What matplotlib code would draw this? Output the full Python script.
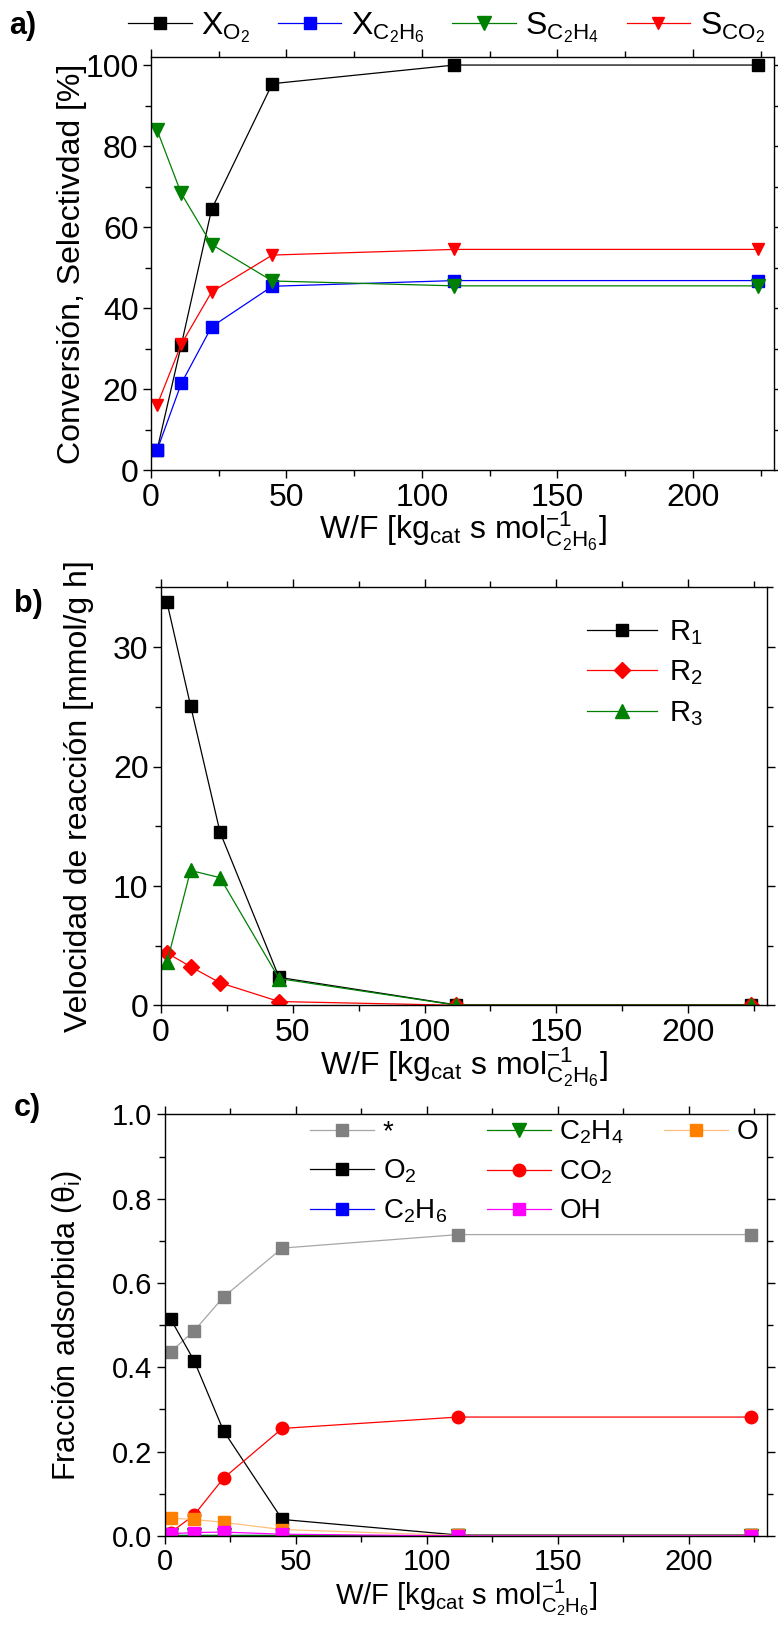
import matplotlib
matplotlib.use('Agg')
import matplotlib.pyplot as plt
from matplotlib.lines import Line2D
from matplotlib.ticker import MultipleLocator

# fuente tipo Arial
plt.rcParams['font.family'] = ['Liberation Sans', 'DejaVu Sans']
plt.rcParams['mathtext.fontset'] = 'custom'
plt.rcParams['mathtext.rm'] = 'Liberation Sans'
plt.rcParams['mathtext.it'] = 'Liberation Sans:italic'
plt.rcParams['mathtext.bf'] = 'Liberation Sans:bold'
plt.rcParams['axes.linewidth'] = 1.0

# W/F [kg_cat s mol-1]
wf = [2.24, 11.2, 22.4, 44.8, 112, 224]

# a) conversion y selectividad [%]
x_o2 = [4.9, 30.9, 64.4, 95.4, 100.0, 100.0]
x_c2h6 = [4.9, 21.4, 35.4, 45.4, 46.8, 46.8]
s_c2h4 = [84.0, 68.3, 55.7, 46.7, 45.5, 45.5]
s_co2 = [16.0, 31.1, 44.0, 53.1, 54.5, 54.5]

# b) velocidad de reaccion [mmol/g h]
r1 = [33.75, 25.1, 14.5, 2.35, 0.05, 0.05]
r2 = [4.4, 3.25, 1.9, 0.33, 0.02, 0.02]
r3 = [3.6, 11.3, 10.7, 2.25, 0.03, 0.03]

# c) fraccion adsorbida
th_vac = [0.437, 0.487, 0.567, 0.683, 0.715, 0.715]
th_o2 = [0.514, 0.415, 0.249, 0.039, 0.002, 0.002]
th_c2h6 = [0.001, 0.001, 0.001, 0.001, 0.0, 0.0]
th_c2h4 = [0.001, 0.001, 0.001, 0.001, 0.0, 0.0]
th_co2 = [0.008, 0.050, 0.137, 0.255, 0.282, 0.282]
th_oh = [0.005, 0.008, 0.009, 0.004, 0.0, 0.0]
th_o = [0.042, 0.039, 0.032, 0.015, 0.001, 0.001]

xlabel = r'W/F [kg$_{\mathrm{cat}}$ s mol$^{-1}_{\mathrm{C_2H_6}}$]'


def style_axis(ax, ymajor, yminor, fs, xpad):
    ax.set_xlim(0, 230)
    ax.xaxis.set_major_locator(MultipleLocator(50))
    ax.xaxis.set_minor_locator(MultipleLocator(25))
    ax.yaxis.set_major_locator(MultipleLocator(ymajor))
    ax.yaxis.set_minor_locator(MultipleLocator(yminor))
    ax.tick_params(which='both', direction='out', top=True, right=True,
                   labeltop=False, labelright=False, width=1.0)
    ax.tick_params(which='major', length=6, labelsize=fs, pad=3)
    ax.tick_params(which='minor', length=4)
    ax.set_xlabel(xlabel, fontsize=fs, labelpad=xpad)


fig = plt.figure(figsize=(7.78, 16.27), dpi=100)

# ---------- a) ----------
ax1 = fig.add_axes([0.194, 0.711, 0.801, 0.254])
ax1.plot(wf, x_o2, '-s', color='black', lw=0.9, ms=8, label=r'X$_{\mathrm{O_2}}$')
ax1.plot(wf, x_c2h6, '-s', color='#0000ff', lw=0.9, ms=8, label=r'X$_{\mathrm{C_2H_6}}$')
ax1.plot(wf, s_c2h4, '-v', color='#008000', lw=0.9, ms=10.5, label=r'S$_{\mathrm{C_2H_4}}$')
ax1.plot(wf, s_co2, '-v', color='#ff0000', lw=0.9, ms=8, label=r'S$_{\mathrm{CO_2}}$')
ax1.set_ylim(0, 102)
style_axis(ax1, 20, 10, 23, -2)
ax1.set_ylabel('Conversión, Selectivdad [%]', fontsize=23)
ax1.yaxis.set_label_coords(-0.102, 0.5)
fig.legend(loc='center', bbox_to_anchor=(0.574, 0.983), ncol=4, frameon=False,
           fontsize=23, handlelength=2.0, handletextpad=0.3, columnspacing=0.85,
           borderpad=0.1)
fig.text(0.012, 0.984, 'a)', fontsize=22, weight='bold', va='center')

# ---------- b) ----------
ax2 = fig.add_axes([0.207, 0.382, 0.779, 0.257])
ax2.plot(wf, r1, '-s', color='black', lw=0.9, ms=8, label=r'R$_1$')
ax2.plot(wf, r2, '-D', color='#ff0000', lw=0.9, ms=8.5, label=r'R$_2$')
ax2.plot(wf, r3, '-^', color='#008000', lw=0.9, ms=10.5, label=r'R$_3$')
ax2.set_ylim(0, 35)
style_axis(ax2, 10, 5, 23, -2)
ax2.set_ylabel('Velocidad de reacción [mmol/g h]', fontsize=23)
ax2.yaxis.set_label_coords(-0.11, 0.5)
ax2.legend(loc='upper left', bbox_to_anchor=(0.66, 0.99), frameon=False,
           fontsize=21, handlelength=2.4, handletextpad=0.4, labelspacing=0.4)
fig.text(0.018, 0.629, 'b)', fontsize=22, weight='bold', va='center')

# ---------- c) ----------
ax3 = fig.add_axes([0.212, 0.056, 0.774, 0.259])
h_vac, = ax3.plot(wf, th_vac, '-s', color='#a6a6a6', mfc='#808080', mec='#808080',
                  lw=0.9, ms=8, label='*')
h_o2, = ax3.plot(wf, th_o2, '-s', color='black', lw=0.9, ms=8, label=r'O$_2$')
h_c2h6, = ax3.plot(wf, th_c2h6, '-s', color='#0000ff', lw=0.9, ms=8,
                   label=r'C$_2$H$_6$')
h_c2h4, = ax3.plot(wf, th_c2h4, '-v', color='#008000', lw=0.9, ms=9.5,
                   label=r'C$_2$H$_4$')
h_co2, = ax3.plot(wf, th_co2, '-o', color='#ff0000', lw=0.9, ms=9,
                  label=r'CO$_2$')
h_o, = ax3.plot(wf, th_o, '-s', color='#ffbf80', mfc='#ff8000', mec='#ff8000',
                lw=0.9, ms=8, label='O')
h_oh, = ax3.plot(wf, th_oh, '-s', color='#ff00ff', lw=0.9, ms=8, label='OH')
ax3.set_ylim(0, 1.0)
style_axis(ax3, 0.2, 0.1, 21, 1)
ax3.set_ylabel(r'Fracción adsorbida ($\mathrm{\theta_i}$)', fontsize=22)
ax3.yaxis.set_label_coords(-0.134, 0.5)
blank = Line2D([], [], linestyle='none', marker='none')
ax3.legend(handles=[h_vac, h_o2, h_c2h6, h_c2h4, h_co2, h_oh, h_o, blank, blank],
           labels=['*', r'O$_2$', r'C$_2$H$_6$', r'C$_2$H$_4$', r'CO$_2$', 'OH',
                   'O', '', ''],
           ncol=3, loc='upper left', bbox_to_anchor=(0.2, 1.05), frameon=False,
           fontsize=20, handlelength=2.3, handletextpad=0.3, columnspacing=1.45,
           labelspacing=0.45)
fig.text(0.018, 0.319, 'c)', fontsize=22, weight='bold', va='center')

plt.savefig('out.png', dpi=100)
